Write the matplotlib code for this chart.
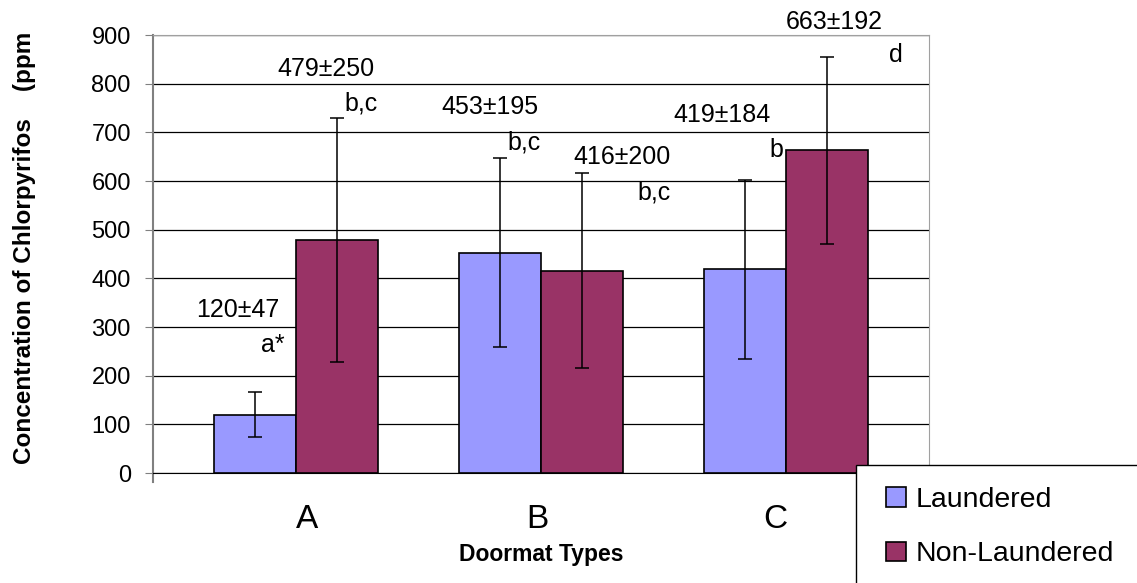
import numpy as np
import matplotlib.pyplot as plt
from matplotlib.patches import Rectangle

plt.rcParams['font.family'] = ['Liberation Sans', 'DejaVu Sans']

# data
doormats = ['A', 'B', 'C']
laundered = [120, 453, 419]
laundered_sd = [47, 195, 184]
non_laundered = [479, 416, 663]
non_laundered_sd = [250, 200, 192]

# annotation texts: (label, x, y, ha)
notes = [
    ('120±47', -0.237, 335, 'center'),
    ('a*', -0.045, 263, 'right'),
    ('479±250', 0.122, 830, 'center'),
    ('b,c', 0.196, 760, 'left'),
    ('453±195', 0.793, 752, 'center'),
    ('b,c', 0.865, 680, 'left'),
    ('416±200', 1.331, 649, 'center'),
    ('b,c', 1.531, 577, 'right'),
    ('419±184', 1.739, 736, 'center'),
    ('b', 1.988, 664, 'right'),
    ('663±192', 2.196, 927, 'center'),
    ('d', 2.449, 859, 'center'),
]

fig = plt.figure(figsize=(11.37, 5.83), dpi=100)
ax = fig.add_axes([153/1137, 110/583, 776/1137, 438/583])

x = np.arange(len(doormats))
w = 0.335
err_kw = dict(ecolor='black', elinewidth=1.1, capsize=5.2, capthick=1.1)
b1 = ax.bar(x - w/2, laundered, w, yerr=laundered_sd, color='#9999FF',
            edgecolor='black', linewidth=1.2, error_kw=err_kw, zorder=3,
            label='Laundered')
b2 = ax.bar(x + w/2, non_laundered, w, yerr=non_laundered_sd, color='#993366',
            edgecolor='black', linewidth=1.2, error_kw=err_kw, zorder=3,
            label='Non-Laundered')

for txt, tx, ty, ha in notes:
    ax.text(tx, ty, txt, ha=ha, va='center', fontsize=18, clip_on=False)

ax.set_xlim(-0.584, 2.584)
ax.set_ylim(0, 900)
ax.set_yticks(np.arange(0, 901, 100))
ax.yaxis.grid(True, color='black', linewidth=0.9, zorder=0)
ax.set_axisbelow(True)
ax.tick_params(axis='y', labelsize=17, length=6, color='#808080', pad=10)
ax.set_xticks([0.045, -0.016 + 1, 1.955])
ax.set_xticklabels(doormats, fontsize=24)
ax.tick_params(axis='x', length=0, pad=22)

ax.set_xlabel('Doormat Types', fontsize=16.5, fontweight='bold', labelpad=6)
ax.set_ylabel('Concentration of Chlorpyrifos    (ppm', fontsize=17.5,
              fontweight='bold', labelpad=40, y=0.515)

for s in ['top', 'right']:
    ax.spines[s].set_color('#a0a0a0')
ax.spines['left'].set_color('#808080')
ax.spines['left'].set_linewidth(1.5)
ax.spines['left'].set_bounds(-19, 900)
ax.spines['bottom'].set_color('black')

# legend box running off the figure edge
fig.patches.append(Rectangle((856/1137, -0.1), 0.4, 0.1 + 118/583,
                             transform=fig.transFigure, facecolor='white',
                             edgecolor='black', linewidth=1.0, zorder=5))
leg = fig.legend(handles=[b1, b2], loc='upper left',
                 bbox_to_anchor=(886/1137, 1 - 487/583), frameon=False,
                 fontsize=20.5, handlelength=0.7, handleheight=0.7,
                 handletextpad=0.35, labelspacing=1.0, borderpad=0,
                 borderaxespad=0)
leg.set_zorder(6)

fig.savefig('out.png', dpi=100)
